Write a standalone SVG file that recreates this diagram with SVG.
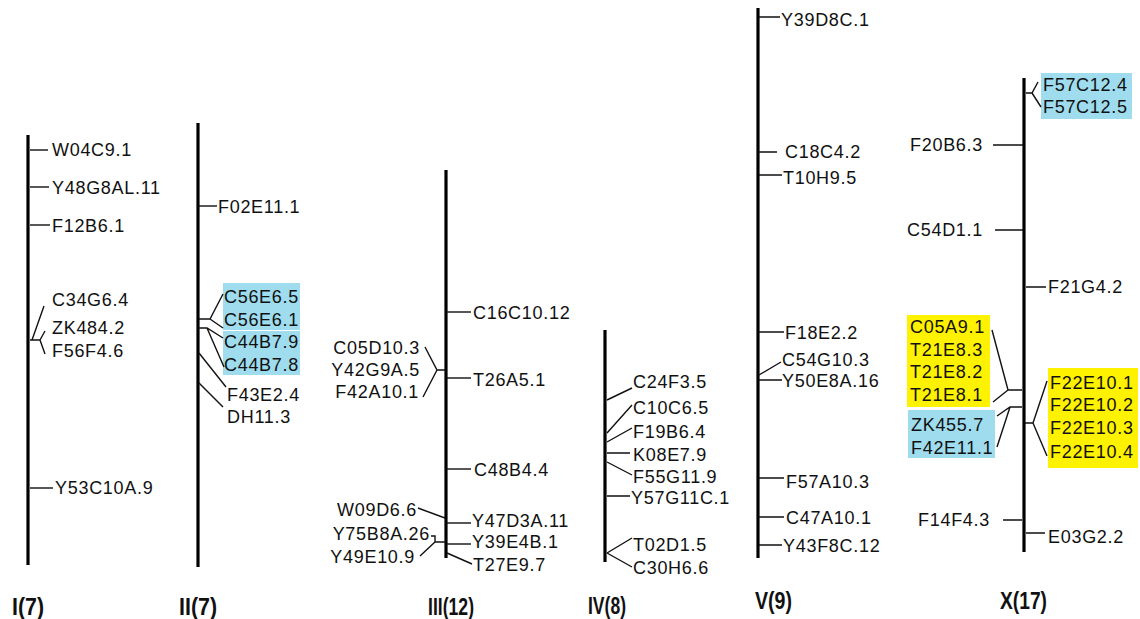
<svg xmlns="http://www.w3.org/2000/svg" width="1140" height="619" viewBox="0 0 1140 619">
<style>
text{font-family:"Liberation Sans",Arial,sans-serif;font-size:18px;fill:#111;letter-spacing:0.7px}
.e{text-anchor:end}
.t{font-size:24px;font-weight:bold;letter-spacing:0}
.chr{stroke:#000;stroke-width:3.2;fill:none}
.c path,.c line{stroke:#111;stroke-width:1.4;fill:none}
.cy{fill:#9edcee}
.ye{fill:#fff200}
</style>
<g id="highlights">
<rect class="cy" x="223" y="283" width="77" height="47"/>
<rect class="cy" x="223" y="331" width="77" height="44"/>
<rect class="cy" x="1041" y="73" width="91" height="46"/>
<rect class="ye" x="907" y="315" width="83" height="92"/>
<rect class="cy" x="908" y="410" width="87" height="48"/>
<rect class="ye" x="1048" y="368" width="90" height="100"/>
</g>
<g id="chromosomes">
<g id="chrI"><line class="chr" x1="28" y1="135" x2="28" y2="565"/><text class="t" x="12" y="615" textLength="32" lengthAdjust="spacingAndGlyphs">I(7)</text></g>
<g id="chrII"><line class="chr" x1="198" y1="123" x2="198" y2="567"/><text class="t" x="179" y="615" textLength="38" lengthAdjust="spacingAndGlyphs">II(7)</text></g>
<g id="chrIII"><line class="chr" x1="446" y1="170" x2="446" y2="558"/><text class="t" x="428" y="615" textLength="46" lengthAdjust="spacingAndGlyphs">III(12)</text></g>
<g id="chrIV"><line class="chr" x1="605" y1="330" x2="605" y2="562"/><text class="t" x="588" y="614" textLength="38" lengthAdjust="spacingAndGlyphs">IV(8)</text></g>
<g id="chrV"><line class="chr" x1="758" y1="8" x2="758" y2="558"/><text class="t" x="755" y="609" textLength="37" lengthAdjust="spacingAndGlyphs">V(9)</text></g>
<g id="chrX"><line class="chr" x1="1024" y1="78" x2="1024" y2="552"/><text class="t" x="1000" y="609" textLength="47" lengthAdjust="spacingAndGlyphs">X(17)</text></g>
</g>
<g id="connectors" class="c">
<line x1="30" y1="150" x2="48" y2="150"/>
<line x1="30" y1="187" x2="49" y2="187"/>
<line x1="30" y1="225" x2="50" y2="225"/>
<line x1="30" y1="488" x2="53" y2="488"/>
<path d="M30,340 L40,340 M32,340 L44,306 M40,340 L45,331 M40,340 L45,354"/>
<line x1="199" y1="206" x2="217" y2="206"/>
<path d="M199,319 L210,319 L223,294 M210,319 L223,328"/>
<path d="M199,328 L207,328 L223,338 M207,328 L224,367"/>
<path d="M199,353 L226,387"/>
<path d="M199,383 L223,407"/>
<line x1="447" y1="312" x2="471" y2="312"/>
<line x1="447" y1="378" x2="471" y2="378"/>
<path d="M446,370 L437,370 L425,347 M437,370 L423,397"/>
<line x1="447" y1="469" x2="471" y2="469"/>
<path d="M418,508 L445,518"/>
<line x1="447" y1="523" x2="471" y2="523"/>
<line x1="447" y1="544" x2="471" y2="544"/>
<path d="M447,553 L472,564"/>
<path d="M446,542 L435,542 L435,536 L431,536 M435,542 L420,556"/>
<path d="M607,400 L632,388 M607,433 L632,405 M607,442 L632,428 M607,453 L630,453 M607,462 L632,475 M607,496 L630,496 M607,553 L632,538 M607,553 L632,567"/>
<path d="M759,17 L780,17 M759,152 L777,152 M759,175 L782,175 M759,332 L784,332 M759,375 L781,362 M759,380 L782,380 M759,478 L784,478 M759,517 L784,517 M759,545 L782,545"/>
<path d="M1026,93 L1032,93 L1038,82 M1032,93 L1041,107"/>
<path d="M993,145 L1023,145 M995,230 L1023,230 M1026,287 L1046,287"/>
<path d="M1022,390 L1008,390 L992,330 M1008,390 L993,402"/>
<path d="M1022,407 L1010,407 L997,416 M1010,407 L997,447"/>
<path d="M1025,423 L1033,423 L1047,381 M1033,423 L1047,456"/>
<path d="M1003,520 L1022,520 M1026,533 L1045,533"/>
</g>
<g id="nodes">
<g id="n-W04C9.1"><text x="52" y="156">W04C9.1</text></g>
<g id="n-Y48G8AL.11"><text x="52" y="194">Y48G8AL.11</text></g>
<g id="n-F12B6.1"><text x="52" y="232">F12B6.1</text></g>
<g id="n-C34G6.4"><text x="52" y="306">C34G6.4</text></g>
<g id="n-ZK484.2"><text x="52" y="334">ZK484.2</text></g>
<g id="n-F56F4.6"><text x="52" y="357">F56F4.6</text></g>
<g id="n-Y53C10A.9"><text x="55" y="494">Y53C10A.9</text></g>
<g id="n-F02E11.1"><text x="218" y="213">F02E11.1</text></g>
<g id="n-C56E6.5"><text x="224" y="303">C56E6.5</text></g>
<g id="n-C56E6.1"><text x="224" y="326">C56E6.1</text></g>
<g id="n-C44B7.9"><text x="224" y="348">C44B7.9</text></g>
<g id="n-C44B7.8"><text x="224" y="371">C44B7.8</text></g>
<g id="n-F43E2.4"><text x="227" y="401">F43E2.4</text></g>
<g id="n-DH11.3"><text x="227" y="423">DH11.3</text></g>
<g id="n-C16C10.12"><text x="473" y="319">C16C10.12</text></g>
<g id="n-T26A5.1"><text x="473" y="386">T26A5.1</text></g>
<g id="n-C05D10.3"><text class="e" x="420" y="354">C05D10.3</text></g>
<g id="n-Y42G9A.5"><text class="e" x="420" y="376">Y42G9A.5</text></g>
<g id="n-F42A10.1"><text class="e" x="419" y="398">F42A10.1</text></g>
<g id="n-C48B4.4"><text x="474" y="476">C48B4.4</text></g>
<g id="n-W09D6.6"><text class="e" x="417" y="516">W09D6.6</text></g>
<g id="n-Y47D3A.11"><text x="472" y="527">Y47D3A.11</text></g>
<g id="n-Y75B8A.26"><text class="e" x="430" y="540">Y75B8A.26</text></g>
<g id="n-Y39E4B.1"><text x="472" y="548">Y39E4B.1</text></g>
<g id="n-Y49E10.9"><text class="e" x="415" y="563">Y49E10.9</text></g>
<g id="n-T27E9.7"><text x="473" y="571">T27E9.7</text></g>
<g id="n-C24F3.5"><text x="633" y="388">C24F3.5</text></g>
<g id="n-C10C6.5"><text x="633" y="414">C10C6.5</text></g>
<g id="n-F19B6.4"><text x="633" y="438">F19B6.4</text></g>
<g id="n-K08E7.9"><text x="633" y="461">K08E7.9</text></g>
<g id="n-F55G11.9"><text x="633" y="483">F55G11.9</text></g>
<g id="n-Y57G11C.1"><text x="631" y="504">Y57G11C.1</text></g>
<g id="n-T02D1.5"><text x="633" y="551">T02D1.5</text></g>
<g id="n-C30H6.6"><text x="633" y="574">C30H6.6</text></g>
<g id="n-Y39D8C.1"><text x="781" y="26">Y39D8C.1</text></g>
<g id="n-C18C4.2"><text x="785" y="158">C18C4.2</text></g>
<g id="n-T10H9.5"><text x="783" y="184">T10H9.5</text></g>
<g id="n-F18E2.2"><text x="785" y="339">F18E2.2</text></g>
<g id="n-C54G10.3"><text x="782" y="366">C54G10.3</text></g>
<g id="n-Y50E8A.16"><text x="782" y="387">Y50E8A.16</text></g>
<g id="n-F57A10.3"><text x="786" y="488">F57A10.3</text></g>
<g id="n-C47A10.1"><text x="786" y="524">C47A10.1</text></g>
<g id="n-Y43F8C.12"><text x="783" y="552">Y43F8C.12</text></g>
<g id="n-F57C12.4"><text x="1043" y="91">F57C12.4</text></g>
<g id="n-F57C12.5"><text x="1043" y="113">F57C12.5</text></g>
<g id="n-F20B6.3"><text class="e" x="983" y="151">F20B6.3</text></g>
<g id="n-C54D1.1"><text class="e" x="983" y="236">C54D1.1</text></g>
<g id="n-F21G4.2"><text x="1048" y="293">F21G4.2</text></g>
<g id="n-C05A9.1"><text x="910" y="333">C05A9.1</text></g>
<g id="n-T21E8.3"><text x="910" y="356">T21E8.3</text></g>
<g id="n-T21E8.2"><text x="910" y="378">T21E8.2</text></g>
<g id="n-T21E8.1"><text x="910" y="401">T21E8.1</text></g>
<g id="n-ZK455.7"><text x="911" y="431">ZK455.7</text></g>
<g id="n-F42E11.1"><text x="911" y="454">F42E11.1</text></g>
<g id="n-F22E10.1"><text x="1050" y="389">F22E10.1</text></g>
<g id="n-F22E10.2"><text x="1050" y="411">F22E10.2</text></g>
<g id="n-F22E10.3"><text x="1050" y="434">F22E10.3</text></g>
<g id="n-F22E10.4"><text x="1050" y="458">F22E10.4</text></g>
<g id="n-F14F4.3"><text class="e" x="990" y="526">F14F4.3</text></g>
<g id="n-E03G2.2"><text x="1048" y="543">E03G2.2</text></g>
</g>
</svg>
